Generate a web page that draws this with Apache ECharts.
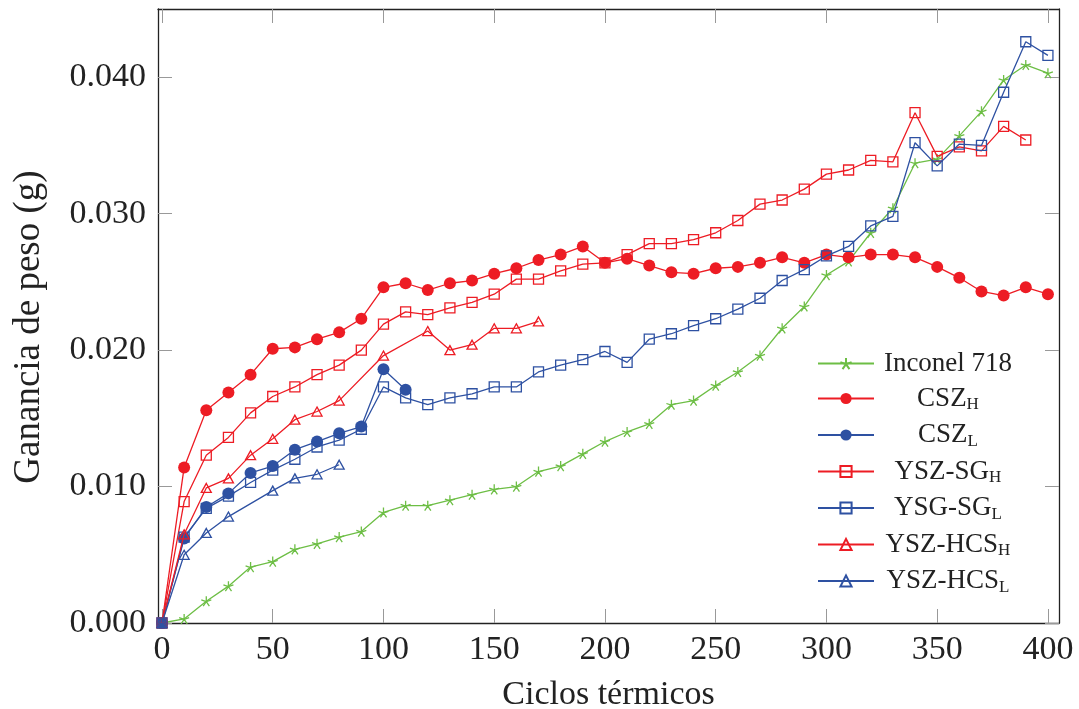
<!DOCTYPE html>
<html>
<head>
<meta charset="utf-8">
<script src="https://cdn.jsdelivr.net/npm/echarts@6/dist/echarts.min.js"></script>
<style>
html,body{margin:0;padding:0;background:#fff;}
#c{width:1079px;height:709px;}
</style>
</head>
<body>
<div id="c"></div>
<script>
// ---- data ----
const cycles = [0,10,20,30,40,50,60,70,80,90,100,110,120,130,140,150,160,170,180,190,200,210,220,230,240,250,260,270,280,290,300,310,320,330,340,350,360,370,380,390,400];
const inconel = [0,0.0003,0.0016,0.0027,0.0041,0.0045,0.0054,0.0058,0.0063,0.0067,0.0081,0.0086,0.0086,0.0090,0.0094,0.0098,0.0100,0.0111,0.0115,0.0124,0.0133,0.0140,0.0146,0.0160,0.0163,0.0174,0.0184,0.0196,0.0216,0.0232,0.0255,0.0265,0.0286,0.0304,0.0337,0.0340,0.0357,0.0375,0.0398,0.0409,0.0403];
const cszH = [0,0.0114,0.0156,0.0169,0.0182,0.0201,0.0202,0.0208,0.0213,0.0223,0.0246,0.0249,0.0244,0.0249,0.0251,0.0256,0.0260,0.0266,0.0270,0.0276,0.0264,0.0267,0.0262,0.0257,0.0256,0.0260,0.0261,0.0264,0.0268,0.0264,0.0270,0.0268,0.0270,0.0270,0.0268,0.0261,0.0253,0.0243,0.0240,0.0246,0.0241];
const cszL = [0,0.0062,0.0085,0.0095,0.0110,0.0115,0.0127,0.0133,0.0139,0.0144,0.0186,0.0171];
const ysgH = [0,0.0089,0.0123,0.0136,0.0154,0.0166,0.0173,0.0182,0.0189,0.0200,0.0219,0.0228,0.0226,0.0231,0.0235,0.0241,0.0252,0.0252,0.0258,0.0263,0.0264,0.0270,0.0278,0.0278,0.0281,0.0286,0.0295,0.0307,0.0310,0.0318,0.0329,0.0332,0.0339,0.0338,0.0374,0.0342,0.0349,0.0346,0.0364,0.0354];
const ysgL = [0,0.0063,0.0084,0.0093,0.0103,0.0112,0.0120,0.0129,0.0134,0.0142,0.0173,0.0165,0.0160,0.0165,0.0168,0.0173,0.0173,0.0184,0.0189,0.0193,0.0199,0.0191,0.0208,0.0212,0.0218,0.0223,0.0230,0.0238,0.0251,0.0259,0.0269,0.0276,0.0291,0.0298,0.0352,0.0335,0.0351,0.0350,0.0389,0.0426,0.0416];
const hcsHx = [0,10,20,30,40,50,60,70,80,100,120,130,140,150,160,170];
const hcsH = [0,0.0065,0.0099,0.0106,0.0123,0.0135,0.0149,0.0155,0.0163,0.0196,0.0214,0.0200,0.0204,0.0216,0.0216,0.0221];
const hcsLx = [0,10,20,30,50,60,70,80];
const hcsL = [0,0.0050,0.0066,0.0078,0.0097,0.0106,0.0109,0.0116];
const xTicks = [0,50,100,150,200,250,300,350,400];
const yTicks = [0,0.010,0.020,0.030,0.040];
const names = ['Inconel 718','CSZ_H','CSZ_L','YSZ-SG_H','YSG-SG_L','YSZ-HCS_H','YSZ-HCS_L'];

// ---- style ----
const FONT = "'Liberation Serif', 'Times New Roman', serif";
const RED = '#ed1c24', BLUE = '#2e51a2', GREEN = '#6dbe45';
const STAR = 'path://M0,-1L0,0M0,0L0.951,-0.309M0,0L0.588,0.809M0,0L-0.588,0.809M0,0L-0.951,-0.309';
const pair = (xs, ys) => ys.map((v, i) => [xs[i], v]);

function mk(name, data, color, symbol, size, filled, idx) {
  return {
    name, type: 'line', data, z: 3 + idx,
    symbol, symbolSize: size, showSymbol: true,
    lineStyle: { color, width: 1.3 },
    itemStyle: filled ? { color, borderWidth: 0 } : { color: 'rgba(0,0,0,0)', borderColor: color, borderWidth: 1.3 },
    emphasis: { disabled: true },
    animation: false
  };
}

const series = [
  mk(names[0], pair(cycles, inconel), GREEN, STAR, 10, false, 0),
  mk(names[1], pair(cycles, cszH), RED, 'circle', 12, true, 1),
  mk(names[2], pair(cycles, cszL), BLUE, 'circle', 12, true, 2),
  mk(names[3], pair(cycles, ysgH), RED, 'rect', 10, false, 3),
  mk(names[4], pair(cycles, ysgL), BLUE, 'rect', 10, false, 4),
  mk(names[5], pair(hcsHx, hcsH), RED, 'triangle', [10, 9], false, 5),
  mk(names[6], pair(hcsLx, hcsL), BLUE, 'triangle', [10, 9], false, 6)
];

// legend text centering
const cv = document.createElement('canvas').getContext('2d');
function tw(t, fs) { cv.font = fs + "px 'Liberation Serif'"; return cv.measureText(t).width; }
const LEG_LEFT = 817, LEG_ITEMW = 56, TEXT_CENTER = 947;
const rich = {
  m: { fontSize: 27, fontFamily: FONT, lineHeight: 30, color: '#222' },
  s: { fontSize: 17, fontFamily: FONT, lineHeight: 16, verticalAlign: 'bottom', color: '#222' }
};
const textStart = LEG_LEFT + LEG_ITEMW + 5;
names.forEach((n, i) => {
  const parts = n.split('_');
  const w = tw(parts[0], 27) + (parts[1] ? tw(parts[1], 17) : 0);
  rich['p' + i] = { width: Math.max(0, TEXT_CENTER - w / 2 - textStart), lineHeight: 30, fontSize: 27 };
});

const axisCommon = {
  type: 'value',
  splitLine: { show: false },
  axisLine: { show: true, onZero: false, lineStyle: { color: '#222', width: 1.3 } },
};

const option = {
  backgroundColor: '#fff',
  animation: false,
  grid: { left: 158, right: 20, top: 9, bottom: 86, containLabel: false, outerBoundsMode: 'none' },
  xAxis: [
    Object.assign({}, axisCommon, {
      min: -1.8, max: 405, position: 'bottom',
      axisTick: { show: true, inside: true, length: 14, customValues: xTicks, lineStyle: { color: '#999', width: 1 } },
      axisLabel: { customValues: xTicks, fontSize: 34, fontFamily: FONT, color: '#222', margin: 10 },
      name: 'Ciclos térmicos', nameLocation: 'middle', nameGap: 55,
      nameTextStyle: { fontSize: 34, fontFamily: FONT, color: '#222' }
    }),
    Object.assign({}, axisCommon, {
      min: -1.8, max: 405, position: 'top',
      axisTick: { show: true, inside: true, length: 14, customValues: xTicks, lineStyle: { color: '#999', width: 1 } },
      axisLabel: { show: false }
    })
  ],
  yAxis: [
    Object.assign({}, axisCommon, {
      min: 0, max: 0.045, position: 'left',
      axisTick: { show: true, inside: true, length: 14, customValues: yTicks, lineStyle: { color: '#999', width: 1 } },
      axisLabel: { customValues: yTicks, fontSize: 34, fontFamily: FONT, color: '#222', margin: 12,
                   formatter: v => v.toFixed(3) },
      name: 'Ganancia de peso (g)', nameLocation: 'middle', nameGap: 110,
      nameTextStyle: { fontSize: 37, fontFamily: FONT, color: '#222', padding: [0, 22, 0, 0] }
    }),
    Object.assign({}, axisCommon, {
      min: 0, max: 0.045, position: 'right',
      axisTick: { show: true, inside: true, length: 14, customValues: yTicks, lineStyle: { color: '#999', width: 1 } },
      axisLabel: { show: false }
    })
  ],
  legend: {
    orient: 'vertical', left: LEG_LEFT, top: 350, padding: 0,
    itemWidth: LEG_ITEMW, itemHeight: 14, itemGap: 8,
    selectedMode: false,
    data: names,
    formatter: function (n) {
      const i = names.indexOf(n);
      const parts = n.split('_');
      return '{p' + i + '| }{m|' + parts[0] + '}' + (parts[1] ? '{s|' + parts[1] + '}' : '');
    },
    textStyle: { rich: rich, fontFamily: FONT, fontSize: 27, color: '#222' }
  },
  series: series
};

const chart = echarts.init(document.getElementById('c'), null, { renderer: 'canvas' });
chart.setOption(option);
</script>
</body>
</html>
